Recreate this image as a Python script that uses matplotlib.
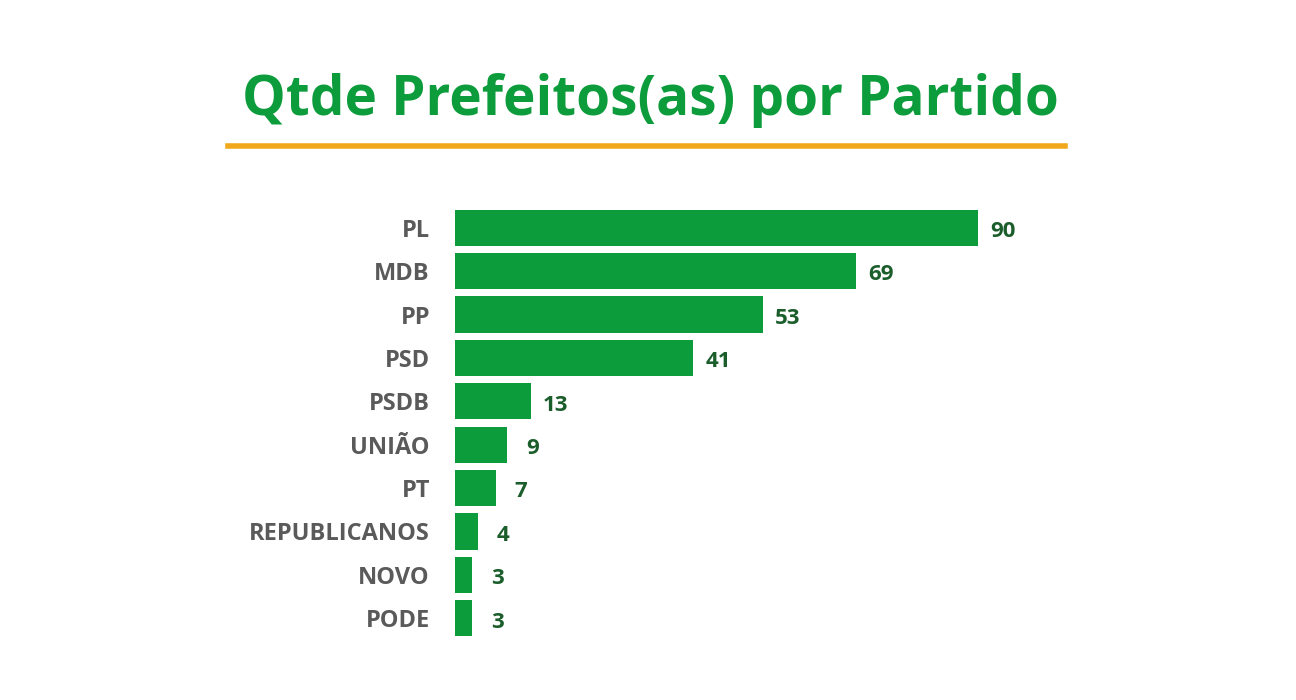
import matplotlib.pyplot as plt
from matplotlib.lines import Line2D

partidos = ["PL", "MDB", "PP", "PSD", "PSDB", "UNIÃO", "PT", "REPUBLICANOS", "NOVO", "PODE"]
prefeitos = [90, 69, 53, 41, 13, 9, 7, 4, 3, 3]

GREEN = "#0c9c3c"
DARK = "#1b5e2b"
GRAY = "#5a5a5a"

plt.rcParams["font.family"] = ["Open Sans", "DejaVu Sans"]

fig = plt.figure(figsize=(12.96, 7), dpi=100)
ax = fig.add_axes([455 / 1296, 60 / 700, 581 / 1296, 434 / 700])

y = list(range(len(partidos)))
ax.barh(y, prefeitos, height=0.83, color=GREEN)
for yi, v in zip(y, prefeitos):
    ax.text(v + 4.3, yi + 0.03, str(v), ha="center", va="center_baseline",
            fontsize=16, fontweight="bold", color=DARK)

ax.set_xlim(0, 100)
ax.set_ylim(len(partidos) - 0.5, -0.5)
ax.set_yticks(y)
ax.set_yticklabels(partidos, fontsize=17, fontweight="bold", color=GRAY)
for lbl in ax.get_yticklabels():
    lbl.set_verticalalignment("center_baseline")
ax.tick_params(axis="y", length=0, pad=18)
ax.set_xticks([])
for s in ax.spines.values():
    s.set_visible(False)

fig.text(650 / 1296, 1 - 100 / 700, "Qtde Prefeitos(as) por Partido", ha="center", va="center",
         fontsize=39.5, fontweight="bold", color=GREEN)
fig.add_artist(Line2D([228 / 1296, 1065 / 1296], [1 - 146 / 700] * 2,
                      color="#f2a81d", lw=4, transform=fig.transFigure))

fig.savefig("out.png", dpi=100)
